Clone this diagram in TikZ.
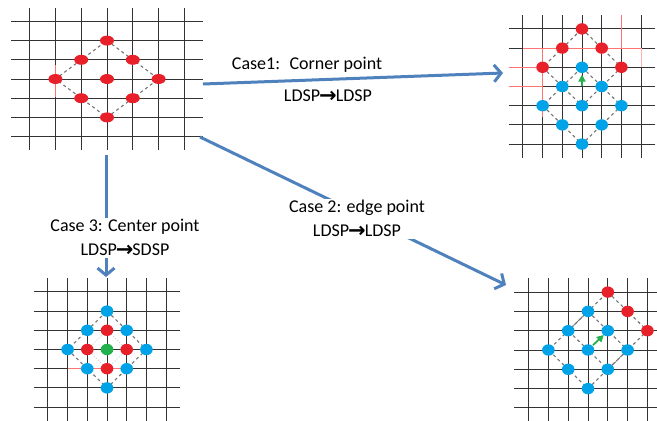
\documentclass[tikz,border=0pt]{standalone}
\usepackage{fontspec}
\setmainfont{Carlito}
\newfontfamily\symfont{DejaVu Sans}
\usetikzlibrary{arrows.meta}

\definecolor{dotred}{RGB}{232,32,42}
\definecolor{dotblue}{RGB}{0,162,232}
\definecolor{dotgreen}{RGB}{34,177,76}
\definecolor{arrowblue}{RGB}{79,129,189}

% heavy arrow between the two pattern names
\newcommand{\patto}{{\symfont\bfseries\fontsize{21}{24}\selectfont\kern-1pt\raisebox{-1pt}{→}\kern-1pt}}

\begin{document}
\begin{tikzpicture}[x=1pt,y=-1pt,font=\fontsize{18}{24}\selectfont,
  gridline/.style={black!80,line width=1pt},
  hiline/.style={red!55,line width=1.1pt},
  diam/.style={black!55,dash pattern=on 3pt off 3pt,line width=1.1pt},
  sdiam/.style={black!22,dotted,line width=0.9pt},
  bigarrow/.style={arrowblue,line width=3pt,-{Straight Barb[length=7pt,width=17pt]}},
  casetext/.style={fill=white,inner sep=1pt,align=center},
  smallarrow/.style={dotgreen,line width=1.8pt,-{Triangle[length=7pt,width=7pt]}}]

\useasboundingbox (0,0) rectangle (657,421);

% the four search grids: centre x/y, step x/y
\foreach \gx/\gy/\hx/\hy in {107/79/25.8/19.2, 582/86.5/19.7/19.2,
                             107/349.5/19.7/19.2, 588/350/19.8/19.3} {
  \foreach \k in {-3,...,3} {
    \draw[gridline] (\gx-3.72*\hx, \gy+\k*\hy) -- (\gx+3.72*\hx, \gy+\k*\hy);
    \draw[gridline] (\gx+\k*\hx, \gy-3.72*\hy) -- (\gx+\k*\hx, \gy+3.72*\hy);
  }
}

% ======== grid A: start pattern ========
\def\cx{107}\def\cy{79}\def\sx{25.8}\def\sy{19.2}
\draw[hiline] (\cx-2*\sx,\cy-0.73*\sy) -- (\cx-2*\sx,\cy+0.94*\sy);
\draw[diam] (\cx,\cy-2*\sy) -- (\cx+2*\sx,\cy) -- (\cx,\cy+2*\sy) -- (\cx-2*\sx,\cy) -- cycle;
\foreach \i/\j in {0/0,0/-2,-1/-1,1/-1,-2/0,2/0,-1/1,1/1,0/2}
  \fill[dotred] (\cx+\i*\sx,\cy+\j*\sy) ellipse (7 and 5);

% ======== grid B: corner point ========
\def\cx{582}\def\cy{86.5}\def\sx{19.7}\def\sy{19.2}
\draw[hiline] (\cx-3*\sx,\cy-2*\sy) -- (\cx+3*\sx,\cy-2*\sy);
\draw[hiline] (\cx-3.72*\sx,\cy-\sy) -- (\cx-2*\sx,\cy-\sy);
\draw[hiline] (\cx-3.72*\sx,\cy) -- (\cx-2*\sx,\cy);
\draw[hiline] (\cx-2*\sx,\cy-2*\sy) -- (\cx-2*\sx,\cy+1.6*\sy);
\draw[hiline] (\cx+2*\sx,\cy-3.72*\sy) -- (\cx+2*\sx,\cy-2*\sy);
\draw[hiline,red!30] (\cx+3*\sx,\cy-2*\sy) -- (\cx+3*\sx,\cy-\sy);
% old and new diamond
\draw[diam] (\cx,\cy-3*\sy) -- (\cx+2*\sx,\cy-\sy) -- (\cx,\cy+\sy) -- (\cx-2*\sx,\cy-\sy) -- cycle;
\draw[diam] (\cx,\cy-\sy) -- (\cx+2*\sx,\cy+\sy) -- (\cx,\cy+3*\sy) -- (\cx-2*\sx,\cy+\sy) -- cycle;
\foreach \i/\j in {0/-3,-1/-2,1/-2,-2/-1,2/-1}
  \fill[dotred] (\cx+\i*\sx,\cy+\j*\sy) ellipse (6.3 and 5.7);
\foreach \i/\j in {0/-1,-1/0,1/0,-2/1,0/1,2/1,-1/2,1/2,0/3}
  \fill[dotblue] (\cx+\i*\sx,\cy+\j*\sy) ellipse (6.3 and 5.7);
\coordinate (bmovefrom) at (\cx,\cy-0.05*\sy);
\coordinate (bmoveto) at (\cx,\cy-0.62*\sy);
\draw[smallarrow] (bmovefrom) -- (bmoveto);

% ======== grid C: center point ========
\def\cx{107}\def\cy{349.5}\def\sx{19.7}\def\sy{19.2}
\draw[hiline] (\cx-2*\sx,\cy+\sy) -- (\cx+\sx,\cy+\sy);
\draw[diam] (\cx,\cy-2*\sy) -- (\cx+2*\sx,\cy) -- (\cx,\cy+2*\sy) -- (\cx-2*\sx,\cy) -- cycle;
\draw[sdiam] (\cx,\cy-\sy) -- (\cx+\sx,\cy) -- (\cx,\cy+\sy) -- (\cx-\sx,\cy) -- cycle;
\foreach \i/\j in {0/-2,-1/-1,1/-1,-2/0,2/0,-1/1,1/1,0/2}
  \fill[dotblue] (\cx+\i*\sx,\cy+\j*\sy) ellipse (6.3 and 5.7);
\foreach \i/\j in {0/-1,-1/0,1/0,0/1}
  \fill[dotred] (\cx+\i*\sx,\cy+\j*\sy) ellipse (6.3 and 5.7);
\fill[dotgreen] (\cx,\cy) ellipse (6.3 and 5.7);

% ======== grid D: edge point ========
\def\cx{588}\def\cy{350}\def\sx{19.8}\def\sy{19.3}
\draw[diam] (\cx+\sx,\cy-3*\sy) -- (\cx+3*\sx,\cy-\sy) -- (\cx+\sx,\cy+\sy) -- (\cx-\sx,\cy-\sy) -- cycle;
\draw[diam] (\cx,\cy-2*\sy) -- (\cx+2*\sx,\cy) -- (\cx,\cy+2*\sy) -- (\cx-2*\sx,\cy) -- cycle;
\foreach \i/\j in {1/-3,2/-2,3/-1}
  \fill[dotred] (\cx+\i*\sx,\cy+\j*\sy) ellipse (6.3 and 5.7);
\foreach \i/\j in {0/-2,-1/-1,1/-1,-2/0,0/0,2/0,-1/1,1/1,0/2}
  \fill[dotblue] (\cx+\i*\sx,\cy+\j*\sy) ellipse (6.3 and 5.7);
\coordinate (dmovefrom) at (\cx+0.25*\sx,\cy-0.25*\sy);
\coordinate (dmoveto) at (\cx+0.8*\sx,\cy-0.78*\sy);
\draw[smallarrow] (dmovefrom) -- (dmoveto);

% ======== the three cases ========
\coordinate (corfrom) at (203,84);
\coordinate (corto) at (503,73);
\coordinate (edgfrom) at (200,137);
\coordinate (edgto) at (506,285);
\coordinate (cenfrom) at (106,155);
\coordinate (cento) at (106,277);

\draw[bigarrow] (corfrom) -- (corto);
\draw[bigarrow] (edgfrom) -- (edgto);
\draw[bigarrow] (cenfrom) -- (cento);

\node (corcase) at (307,65) {Case1:~ Corner point};
\node (corrule) at (328,96) {LDSP\patto LDSP};
\node[casetext] (edgcase) at (357,219) {Case 2: edge point\\LDSP\patto LDSP};
\node[casetext] (cencase) at (125,238) {Case 3: Center point\\LDSP\patto SDSP};

\end{tikzpicture}
\end{document}
